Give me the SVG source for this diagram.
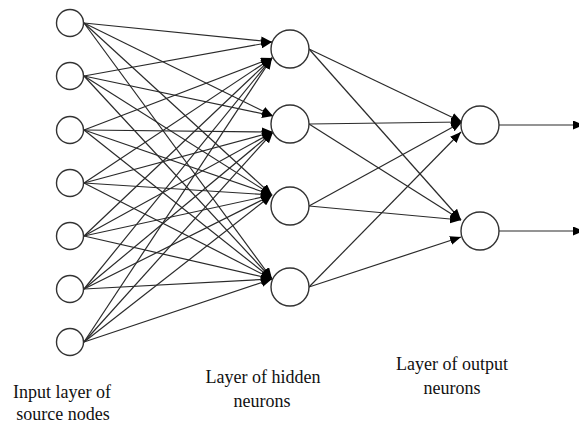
<svg xmlns="http://www.w3.org/2000/svg" width="579" height="426" viewBox="0 0 579 426">
<style>
.n{fill:#fff;stroke:#333;stroke-width:1.4}
.e{stroke:#2a2a2a;stroke-width:1.2;fill:none;marker-end:url(#ah)}
.t{font-size:18px;fill:#111;text-anchor:middle}
</style>
<defs>
<marker id="ah" markerWidth="11" markerHeight="9" refX="11" refY="4.5" orient="auto" markerUnits="userSpaceOnUse">
<path d="M0,0 L11,4.5 L0,9 z" fill="#000"/>
</marker>
</defs>
<rect width="579" height="426" fill="#fff"/>
<g id="connectors">
<line class="e" x1="84" y1="23" x2="272" y2="42"/>
<line class="e" x1="84" y1="23" x2="273" y2="116"/>
<line class="e" x1="84" y1="23" x2="272" y2="195"/>
<line class="e" x1="84" y1="23" x2="272" y2="279"/>
<line class="e" x1="84" y1="76" x2="272" y2="42"/>
<line class="e" x1="84" y1="76" x2="273" y2="116"/>
<line class="e" x1="84" y1="76" x2="272" y2="195"/>
<line class="e" x1="84" y1="76" x2="272" y2="279"/>
<line class="e" x1="84" y1="130" x2="272" y2="58"/>
<line class="e" x1="84" y1="130" x2="273" y2="132"/>
<line class="e" x1="84" y1="130" x2="272" y2="195"/>
<line class="e" x1="84" y1="130" x2="272" y2="279"/>
<line class="e" x1="84" y1="183" x2="272" y2="58"/>
<line class="e" x1="84" y1="183" x2="273" y2="132"/>
<line class="e" x1="84" y1="183" x2="272" y2="195"/>
<line class="e" x1="84" y1="183" x2="272" y2="279"/>
<line class="e" x1="84" y1="236" x2="272" y2="58"/>
<line class="e" x1="84" y1="236" x2="273" y2="132"/>
<line class="e" x1="84" y1="236" x2="272" y2="195"/>
<line class="e" x1="84" y1="236" x2="272" y2="279"/>
<line class="e" x1="84" y1="289" x2="272" y2="58"/>
<line class="e" x1="84" y1="289" x2="273" y2="132"/>
<line class="e" x1="84" y1="289" x2="272" y2="195"/>
<line class="e" x1="84" y1="289" x2="272" y2="279"/>
<line class="e" x1="84" y1="342" x2="272" y2="58"/>
<line class="e" x1="84" y1="342" x2="273" y2="132"/>
<line class="e" x1="84" y1="342" x2="272" y2="195"/>
<line class="e" x1="84" y1="342" x2="272" y2="279"/>
<line class="e" x1="309" y1="49" x2="462" y2="122"/>
<line class="e" x1="309" y1="49" x2="461" y2="220"/>
<line class="e" x1="309" y1="124" x2="462" y2="122"/>
<line class="e" x1="309" y1="124" x2="461" y2="220"/>
<line class="e" x1="309" y1="206" x2="462" y2="122"/>
<line class="e" x1="309" y1="206" x2="461" y2="220"/>
<line class="e" x1="309" y1="287" x2="461" y2="132"/>
<line class="e" x1="309" y1="287" x2="461" y2="237"/>
<line class="e" x1="499" y1="125" x2="584" y2="125"/>
<line class="e" x1="499" y1="231" x2="584" y2="231"/>
</g>
<g id="in1"><circle class="n" cx="70" cy="23" r="13.5"/></g>
<g id="in2"><circle class="n" cx="70" cy="76" r="13.5"/></g>
<g id="in3"><circle class="n" cx="70" cy="130" r="13.5"/></g>
<g id="in4"><circle class="n" cx="70" cy="183" r="13.5"/></g>
<g id="in5"><circle class="n" cx="70" cy="236" r="13.5"/></g>
<g id="in6"><circle class="n" cx="70" cy="289" r="13.5"/></g>
<g id="in7"><circle class="n" cx="70" cy="342" r="13.5"/></g>
<g id="h1"><circle class="n" cx="290" cy="49" r="19"/></g>
<g id="h2"><circle class="n" cx="290" cy="124" r="19"/></g>
<g id="h3"><circle class="n" cx="290" cy="206" r="19"/></g>
<g id="h4"><circle class="n" cx="290" cy="287" r="19"/></g>
<g id="o1"><circle class="n" cx="480" cy="125" r="19"/></g>
<g id="o2"><circle class="n" cx="480" cy="231" r="19"/></g>
<g id="labels" font-family="Liberation Serif">
<text class="t" x="62" y="398">Input layer of</text>
<text class="t" x="63" y="420">source nodes</text>
<text class="t" x="263" y="383">Layer of hidden</text>
<text class="t" x="262" y="407">neurons</text>
<text class="t" x="452" y="370">Layer of output</text>
<text class="t" x="452" y="394">neurons</text>
</g>
</svg>
